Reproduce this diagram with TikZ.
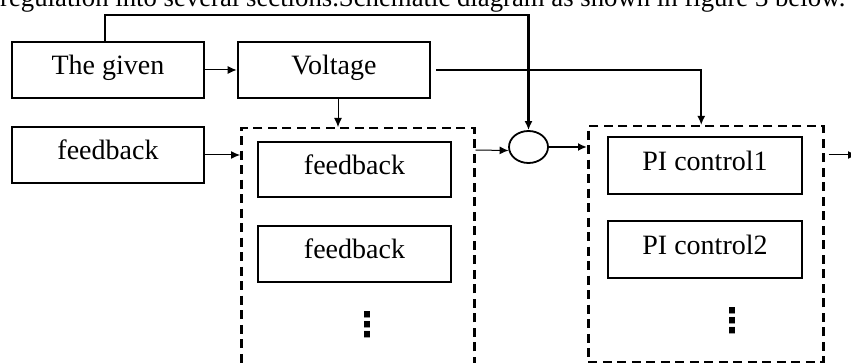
\documentclass[tikz,border=0pt]{standalone}
\usepackage{fontspec}
\setmainfont{Liberation Serif}
\newfontfamily\dejavu{DejaVu Sans}
\usetikzlibrary{arrows.meta,shapes.geometric}
\begin{document}
\begin{tikzpicture}[x=1pt,y=-1pt,
  box/.style={draw,line width=2.7pt,inner sep=0pt,minimum width=192pt,minimum height=56pt,
    font=\fontsize{28}{30}\selectfont,text height=19.6pt,text depth=9.8pt},
  dbox/.style={draw,line width=2.5pt,dash pattern=on 9pt off 5.5pt,inner sep=0pt},
  thinarr/.style={line width=1pt,-{Latex[length=9pt,width=8pt]}},
  thickarr/.style={line width=2.4pt,-{Latex[length=9pt,width=8pt]}},
  vdotsnode/.style={inner sep=0pt,font=\dejavu\bfseries\fontsize{34}{34}\selectfont}]
\fill[white] (0,0) rectangle (851,363);
\useasboundingbox (0,0) rectangle (851,363);
\clip (0,0) rectangle (851,363);
\node[anchor=base west,inner sep=0pt,font=\fontsize{26.75}{28}\selectfont] (cap) at (0,6.5)
  {regulation into several sections.Schematic diagram as shown in figure 3 below.};
\node[box] (given) at (108,70) {The given};
\node[box] (volt) at (334,70) {Voltage};
\node[box] (fbin) at (108,155) {feedback};
\node[dbox,minimum width=233pt,minimum height=280pt,anchor=north west] (dash1) at (240,127) {};
\node[box,minimum width=193pt,minimum height=55pt] (fb1) at (354.5,169.5) {feedback};
\node[box,minimum width=193pt] (fb2) at (354.5,254) {feedback};
\node[vdotsnode] (dots1) at (367,325) {⋮};
\node[draw,ellipse,line width=1.8pt,minimum width=39pt,minimum height=32pt,inner sep=0pt] (circ) at (528.5,147) {};
\node[dbox,minimum width=235pt,minimum height=236pt,anchor=north west] (dash2) at (587,125) {};
\node[box,minimum width=194pt,minimum height=57pt] (pi1) at (705,165.5) {PI control1};
\node[box,minimum width=194pt,minimum height=57pt] (pi2) at (705,249.5) {PI control2};
\node[vdotsnode] (dots2) at (732,321) {⋮};
\coordinate (out) at (857,155);
\draw[thinarr] (given.east) -- (volt.west);
\draw[thinarr] (fbin.east) -- (fbin.east -| dash1.west);
\draw[thickarr] ([xshift=-3pt]given.north) |- (circ.north |- 0,15) -- (circ.north);
\draw[thinarr] ([xshift=4pt]volt.south) -- ([xshift=4pt]volt.south |- dash1.north);
\draw[thickarr] ([xshift=5pt]volt.east) -| ([xshift=-4.5pt]dash2.north);
\draw[thinarr] ([yshift=-23pt]dash1.north east) -- (circ.190);
\draw[thickarr] (circ.east) -- (circ.east -| dash2.west);
\draw[thinarr] ([yshift=-30pt,xshift=4pt]dash2.north east) -- (out);
\end{tikzpicture}
\end{document}
